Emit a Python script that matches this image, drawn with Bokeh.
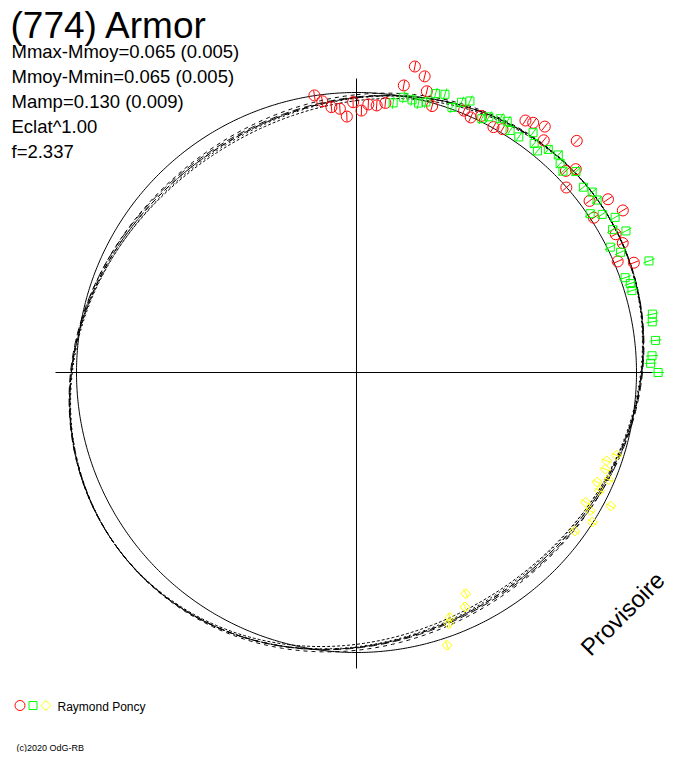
import numpy as np
from bokeh.plotting import figure
from bokeh.models import Range1d
from bokeh.core.properties import value
from bokeh.embed import file_html
from bokeh.resources import INLINE

# ---------------- data ----------------
title = "(774) Armor"
info_lines = ["Mmax-Mmoy=0.065 (0.005)", "Mmoy-Mmin=0.065 (0.005)",
              "Mamp=0.130 (0.009)", "Eclat^1.00", "f=2.337"]
observer = "Raymond Poncy"
credit = "(c)2020 OdG-RB"
watermark = "Provisoire"

# session 1 (red circles): rotational phase and magnitude offset from mean
red_phase = [0.976, 0.980, 0.985, 0.990, 0.994, 0.998, 0.003, 0.007, 0.012, 0.017,
             0.030, 0.036, 0.026, 0.039, 0.044, 0.062, 0.067, 0.072, 0.081, 0.086,
             0.094, 0.098, 0.104, 0.108, 0.121, 0.131, 0.128, 0.135, 0.149, 0.154,
             0.163, 0.158, 0.172, 0.186, 0.190, 0.178]
red_dmag = [0.001, -0.026, -0.053, -0.062, -0.094, -0.038, -0.071, -0.046, -0.048, -0.035,
            0.124, 0.094, 0.043, 0.039, -0.012, 0.012, -0.002, 0.021, 0.004, 0.015,
            0.092, 0.102, 0.117, 0.072, 0.156, 0.075, 0.042, -0.001, 0.037, 0.100,
            0.125, 0.013, 0.054, 0.015, 0.072, 0.063]

# session 2 (green squares)
green_phase = [0.0215, 0.027, 0.032, 0.036, 0.040, 0.044, 0.049, 0.055, 0.059, 0.063,
               0.073, 0.076, 0.082, 0.086, 0.090, 0.096, 0.101, 0.105, 0.109, 0.113,
               0.119, 0.123, 0.127, 0.132, 0.141, 0.146, 0.151, 0.155, 0.159, 0.164,
               0.169, 0.173, 0.177, 0.182, 0.192, 0.196, 0.200, 0.204, 0.219, 0.223,
               0.233, 0.241, 0.245, 0.250]
green_dmag = [-0.031, -0.003, -0.007, -0.014, -0.003, 0.039, 0.047, 0.007, 0.039, 0.056,
              0.012, 0.031, 0.046, 0.051, 0.026, 0.024, 0.070, 0.039, 0.024, 0.056,
              0.066, 0.046, 0.033, 0.069, 0.051, 0.066, 0.063, 0.010, 0.048, 0.085,
              0.052, 0.096, 0.012, 0.040, 0.130, 0.019, 0.031, 0.029, 0.085, 0.079,
              0.082, 0.063, 0.056, 0.085]

# session 3 (yellow diamonds)
yellow_phase = [0.299, 0.304, 0.309, 0.314, 0.318, 0.322, 0.332, 0.327, 0.335, 0.340,
                0.350, 0.427, 0.431, 0.442, 0.444, 0.449]
yellow_dmag = [-0.028, -0.058, -0.051, -0.024, -0.061, -0.038, -0.066, 0.028, -0.034, -0.003,
               -0.040, -0.131, -0.085, -0.070, -0.049, 0.029]

# fitted double-wave light curves (mean offset, half amplitude, phase of maximum)
fit_mean = [0.000, 0.006, -0.006, 0.003, -0.003, 0.000]
fit_amp = [0.065, 0.059, 0.071, 0.062, 0.068, 0.065]
fit_phase_max = [0.150, 0.145, 0.155, 0.152, 0.148, 0.150]
fit_dash = ["6 3", "4 4", "3 2", "8 4", "2 3", "5 5"]

# ---------------- layout / style ----------------
W, H = 672, 752
CX, CY_IMG = 356, 372      # centre of the polar diagram (picture px)
R0 = 280                   # radius of the mean-magnitude circle
K = 254                    # px per magnitude
FONT = value("Liberation Sans")


def img_y(y):
    return H - y


CY = img_y(CY_IMG)


def polar(phase, dmag):
    ph = np.asarray(phase, dtype=float)
    r = R0 + K * np.asarray(dmag, dtype=float)
    th = 2 * np.pi * ph
    return CX + r * np.sin(th), CY + r * np.cos(th), th, r


p = figure(width=W, height=H, x_range=Range1d(0, W), y_range=Range1d(0, H),
           output_backend="svg", toolbar_location=None, min_border=0,
           x_axis_type=None, y_axis_type=None)
p.grid.visible = False
p.outline_line_color = None
p.background_fill_color = "white"
p.border_fill_color = "white"

# cross axes
p.segment(x0=[CX - 301, CX], y0=[CY, CY + 294], x1=[CX + 304, CX], y1=[CY, CY - 296],
          line_color="black", line_width=1)

# mean circle
tt = np.linspace(0, 2 * np.pi, 721)
p.line(CX + R0 * np.sin(tt), CY + R0 * np.cos(tt), line_color="black", line_width=1)

# fitted curves
ph_grid = np.linspace(0, 1, 721)
for m, a, f0, d in zip(fit_mean, fit_amp, fit_phase_max, fit_dash):
    dm = m + a * np.cos(4 * np.pi * (ph_grid - f0))
    x, y, _, _ = polar(ph_grid, dm)
    p.line(x, y, line_color="black", line_width=1, line_dash=d)


def session(phase, dmag, color, marker, size, half, angle=0.0):
    x, y, th, r = polar(phase, dmag)
    p.segment(x0=CX + (r - half) * np.sin(th), y0=CY + (r - half) * np.cos(th),
              x1=CX + (r + half) * np.sin(th), y1=CY + (r + half) * np.cos(th),
              line_color=color, line_width=1)
    p.scatter(x, y, marker=marker, size=size, angle=angle, fill_color=None,
              line_color=color, line_width=1)


session(red_phase, red_dmag, "#FF0000", "circle", 11, 5)
session(green_phase, green_dmag, "#00FF00", "square", 8, 6)
session(yellow_phase, yellow_dmag, "#FFFF00", "square", 7, 5, angle=np.pi / 4)

# texts
p.text(x=[10], y=[img_y(25)], text=[title], text_font=FONT, text_font_size="37px",
       text_color="black", text_baseline="alphabetic")
p.text(x=[11] * len(info_lines), y=[img_y(51 + 25 * i) for i in range(len(info_lines))],
       text=info_lines, text_font=FONT, text_font_size="18.5px", text_color="black",
       text_baseline="alphabetic")

# legend
p.scatter([19.5], [img_y(705)], marker="circle", size=10, fill_color=None, line_color="#FF0000")
p.scatter([32.5], [img_y(705)], marker="square", size=8, fill_color=None, line_color="#00FF00")
p.scatter([45.5], [img_y(705)], marker="square", size=7, angle=np.pi / 4, fill_color=None,
          line_color="#FFFF00")
p.text(x=[57], y=[img_y(706)], text=[observer], text_font=FONT, text_font_size="12px",
       text_color="black", text_baseline="alphabetic")
p.text(x=[16], y=[img_y(747)], text=[credit], text_font=FONT, text_font_size="9px",
       text_color="black", text_baseline="alphabetic")

# watermark
p.text(x=[622], y=[img_y(613)], text=[watermark], angle=np.pi / 4, text_font=FONT,
       text_font_size="24px", text_color="black", text_align="center",
       text_baseline="middle")

open("out.html", "w").write(file_html(p, INLINE))
